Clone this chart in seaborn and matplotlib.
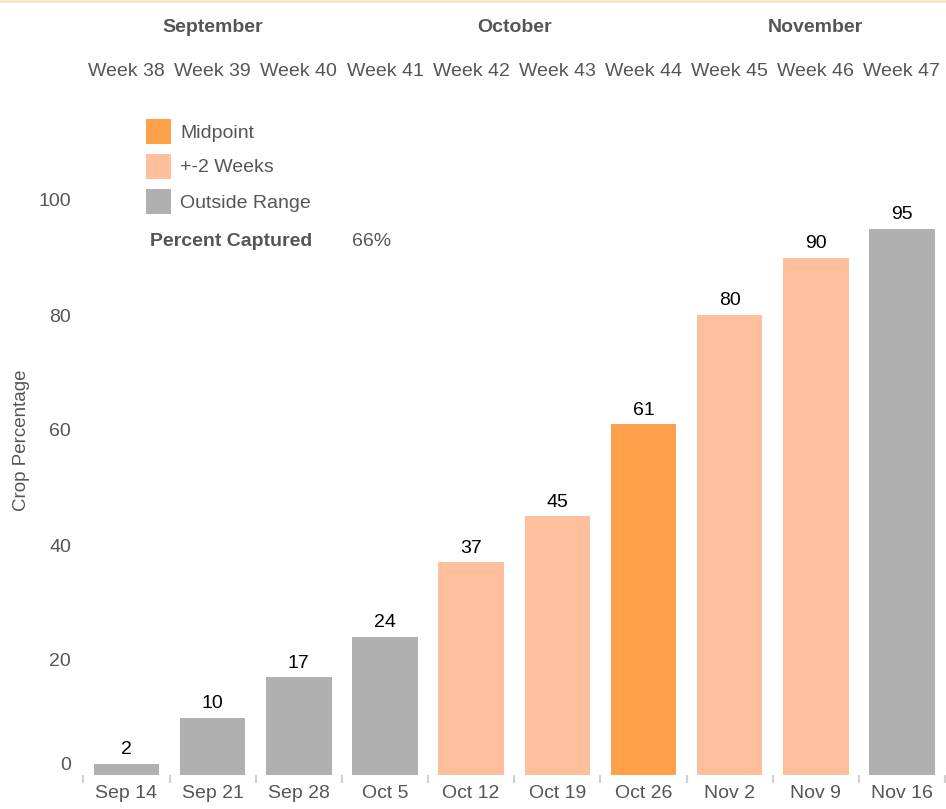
import matplotlib
matplotlib.use("Agg")
import matplotlib.pyplot as plt
from matplotlib.patches import Rectangle
from matplotlib.lines import Line2D
from matplotlib.transforms import ScaledTranslation
import seaborn as sns
import pandas as pd

# --- data ---------------------------------------------------------------
dates = ["Sep 14", "Sep 21", "Sep 28", "Oct 5", "Oct 12",
         "Oct 19", "Oct 26", "Nov 2", "Nov 9", "Nov 16"]
weeks = ["Week 38", "Week 39", "Week 40", "Week 41", "Week 42",
         "Week 43", "Week 44", "Week 45", "Week 46", "Week 47"]
crop_pct = [2, 10, 17, 24, 37, 45, 61, 80, 90, 95]
category = ["Outside Range", "Outside Range", "Outside Range", "Outside Range",
            "+-2 Weeks", "+-2 Weeks", "Midpoint", "+-2 Weeks", "+-2 Weeks",
            "Outside Range"]
months = ["September", "October", "November"]
month_span = [(0, 2), (3, 6), (7, 9)]
percent_captured = "66%"

palette = {"Midpoint": "#FFA04A", "+-2 Weeks": "#FFBE9C", "Outside Range": "#B0B0B0"}
TEXT = "#555555"
FS = 14

df = pd.DataFrame({"date": dates, "pct": crop_pct, "category": category})

sns.set_theme(style="white")
plt.rcParams["font.family"] = ["Liberation Sans", "DejaVu Sans"]

W, H = 946, 809
fig = plt.figure(figsize=(W / 100, H / 100), dpi=100)

# axes placed in pixel terms: x from 83 to 945, y baseline at 775, top at 110
left, right, bottom, top = 83.4, 945, 775, 110
ax = fig.add_axes([left / W, (H - bottom) / H, (right - left) / W, (bottom - top) / H])

sns.barplot(data=df, x="date", y="pct", hue="category", palette=palette,
            order=dates, dodge=False, width=0.76, legend=False, ax=ax,
            saturation=1, linewidth=0, edgecolor="none")

ax.set_xlim(-0.5, len(dates) - 0.5)
ax.set_ylim(0, (bottom - top) / 5.75)
ax.set_yticks([0, 20, 40, 60, 80, 100])
ax.set_xlabel("")
ax.set_ylabel("")
for s in ax.spines.values():
    s.set_visible(False)

ax.tick_params(axis="y", length=0, pad=9, labelsize=FS, labelcolor=TEXT)
ax.tick_params(axis="x", which="major", length=0, pad=7, labelsize=FS, labelcolor=TEXT)
ax.set_xticks([i - 0.5 for i in range(len(dates) + 1)], minor=True)
ax.tick_params(axis="x", which="minor", length=6, width=1.5, color="#D0D0D0",
               bottom=True, direction="out")

# lift the zero label slightly off the baseline
zero_lbl = ax.get_yticklabels()[0]
zero_lbl.set_transform(zero_lbl.get_transform() +
                       ScaledTranslation(0, 12 / 100, fig.dpi_scale_trans))

# value labels above bars
for i, v in enumerate(crop_pct):
    ax.annotate(str(v), (i, v), xytext=(0, 4), textcoords="offset points",
                ha="center", va="bottom", fontsize=FS, color="black")

# header: months (bold) and week numbers, aligned with bar positions
for name, (a, b) in zip(months, month_span):
    ax.annotate(name, ((a + b) / 2, 0), xycoords=("data", "figure pixels"),
                xytext=(0, H - 27), textcoords=("offset points", "figure pixels"),
                ha="center", va="center", fontsize=FS, fontweight="bold", color=TEXT)
for i, wk in enumerate(weeks):
    ax.annotate(wk, (i, 0), xycoords=("data", "figure pixels"),
                xytext=(0, H - 71), textcoords=("offset points", "figure pixels"),
                ha="center", va="center", fontsize=FS, color=TEXT)

# y-axis title
fig.text(22 / W, (H - 440) / H, "Crop Percentage", rotation=90,
         ha="center", va="center", fontsize=13.5, color=TEXT)

# legend swatches
for j, lab in enumerate(["Midpoint", "+-2 Weeks", "Outside Range"]):
    cy = 131 + 35 * j
    fig.add_artist(Rectangle((146 / W, (H - cy - 12.5) / H), 25 / W, 25 / H,
                             transform=fig.transFigure, color=palette[lab], lw=0))
    fig.text(180 / W, (H - cy - 2) / H, lab, ha="left", va="center",
             fontsize=FS, color=TEXT)

fig.text(150 / W, (H - 242) / H, "Percent Captured", ha="left", va="center",
         fontsize=FS, fontweight="bold", color=TEXT)
fig.text(352 / W, (H - 242) / H, percent_captured, ha="left", va="center",
         fontsize=FS, color=TEXT)

# thin top border
fig.add_artist(Line2D([0, 1], [1 - 1 / H, 1 - 1 / H], transform=fig.transFigure,
                      color="#FCE4C4", lw=2))

fig.savefig("out.png", dpi=100)
